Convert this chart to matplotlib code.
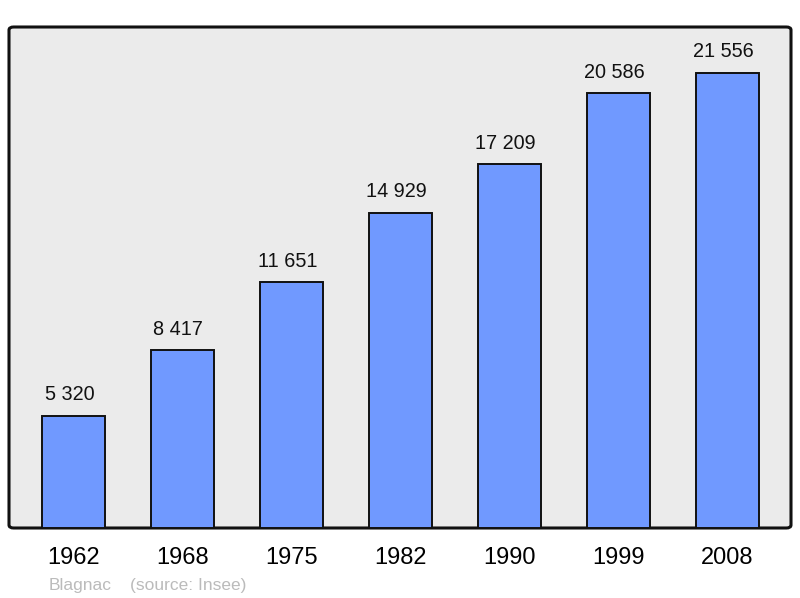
import matplotlib
matplotlib.use("Agg")
import matplotlib.pyplot as plt
from matplotlib.patches import FancyBboxPatch

years = ["1962", "1968", "1975", "1982", "1990", "1999", "2008"]
population = [5320, 8417, 11651, 14929, 17209, 20586, 21556]
town = "Blagnac"
source = "(source: Insee)"

plt.rcParams["font.family"] = ["Liberation Sans", "DejaVu Sans"]

fig = plt.figure(figsize=(8, 5.98), dpi=100)
ax = fig.add_axes([9 / 800, 70 / 598, 782 / 800, 501 / 598])
ax.set_facecolor("none")

# rounded grey frame behind the plot
frame = FancyBboxPatch(
    (0, 0), 1, 1,
    boxstyle="round,pad=0,rounding_size=0.006",
    transform=ax.transAxes,
    facecolor="#ebebeb", edgecolor="#111111", linewidth=2.2,
    zorder=0, clip_on=False,
)
ax.add_patch(frame)

x = range(len(years))
bars = ax.bar(x, population, width=0.58, color="#7099ff",
              edgecolor="#111111", linewidth=1.4, zorder=2)

for xi, val in zip(x, population):
    label = f"{val:,}".replace(",", " ")
    ax.annotate(label, (xi, val), xytext=(-3, 8), textcoords="offset points",
                ha="center", va="bottom", fontsize=14.3, color="#111111")

ax.set_xlim(-0.592, 6.582)
ax.set_ylim(0, 21556 * 1.1)
ax.set_xticks(list(x))
ax.set_xticklabels(years, fontsize=17)
ax.tick_params(axis="x", length=0, pad=14)
ax.set_yticks([])
for s in ax.spines.values():
    s.set_visible(False)

fig.text(49 / 800, 1 - 585.5 / 598, town, fontsize=12.5, color="#bbbbbb", va="center")
fig.text(130 / 800, 1 - 585.5 / 598, source, fontsize=12.5, color="#bbbbbb", va="center")

fig.savefig("out.png", dpi=100)
